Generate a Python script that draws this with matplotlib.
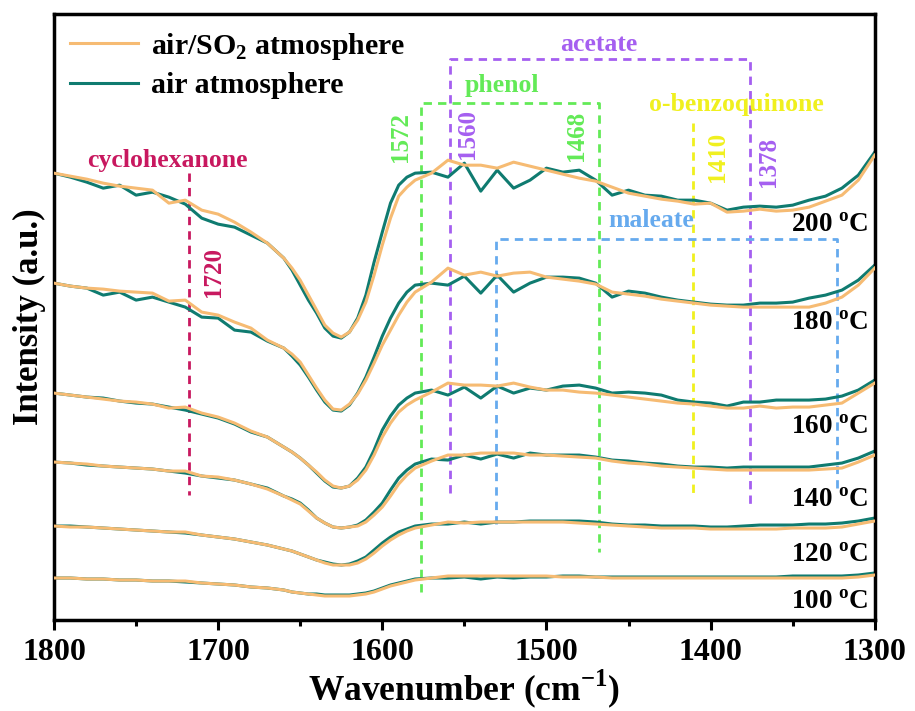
import numpy as np
import matplotlib
matplotlib.use("Agg")
import matplotlib.pyplot as plt
from matplotlib.ticker import MultipleLocator

plt.rcParams['font.family'] = ['Liberation Serif', 'DejaVu Serif']
plt.rcParams['font.weight'] = 'bold'
plt.rcParams['mathtext.fontset'] = 'custom'
plt.rcParams['mathtext.rm'] = 'Liberation Serif:bold'
plt.rcParams['mathtext.bf'] = 'Liberation Serif:bold'

#############
# Data
#############

wavenumber = [1800, 1790, 1780, 1770, 1760, 1750, 1740, 1730, 1720, 1710, 1700, 1690, 1680, 1670,
              1660, 1655, 1650, 1645, 1640, 1635, 1630, 1625, 1620, 1615, 1610, 1605, 1600,
              1595, 1590, 1585, 1580,
              1570, 1560, 1550, 1540, 1530, 1520, 1510, 1500, 1490, 1480, 1470, 1460, 1450,
              1440, 1430, 1420, 1410, 1400, 1390, 1380, 1370, 1360, 1350, 1340, 1330, 1320,
              1310, 1300]

temperatures = ["200", "180", "160", "140", "120", "100"]

# air atmosphere (teal), intensity in a.u.
air_200 = [447, 443, 438, 432, 435, 425, 428, 423, 416, 402, 396, 393, 385, 377,
           362, 350, 335, 320, 307, 292, 284, 282, 288, 302, 325, 358, 388, 417, 435, 443, 447,
           448, 443, 457, 429, 450, 432, 440, 452, 448, 450, 440, 425, 430,
           425, 424, 420, 420, 417, 410, 413, 414, 413, 415, 420, 424, 432, 445, 468]
air_180 = [337, 334, 332, 325, 328, 320, 323, 318, 313, 303, 302, 290, 288, 279,
           272, 264, 255, 243, 230, 218, 210, 209, 215, 227, 243, 263, 284, 302, 317, 328, 335,
           337, 335, 344, 327, 345, 328, 337, 343, 343, 342, 337, 323, 329,
           327, 323, 320, 318, 316, 315, 315, 317, 317, 318, 322, 325, 330, 340, 355]
air_160 = [227, 225, 223, 222, 219, 217, 216, 213, 210, 206, 202, 196, 188, 183,
           173, 168, 162, 155, 147, 139, 133, 132, 134, 142, 153, 170, 190, 204, 215, 222, 227,
           230, 225, 233, 222, 234, 227, 232, 230, 234, 235, 232, 227, 228,
           227, 225, 220, 218, 217, 214, 218, 218, 220, 220, 220, 221, 224, 230, 240]
air_140 = [158, 157, 155, 154, 153, 152, 151, 149, 147, 144, 142, 140, 136, 132,
           124, 121, 117, 110, 102, 97, 93, 92, 93, 95, 100, 108, 117, 130, 142, 150, 156,
           161, 160, 165, 161, 166, 162, 167, 165, 165, 165, 163, 160, 159,
           157, 156, 154, 153, 153, 152, 153, 153, 153, 153, 153, 155, 157, 162, 169]
air_120 = [94, 94, 93, 92, 91, 90, 89, 88, 87, 85, 83, 81, 78, 75,
           71, 69, 66, 63, 60, 58, 56, 55, 56, 59, 63, 70, 77, 83, 88, 91, 94,
           96, 96, 98, 96, 98, 98, 99, 99, 99, 99, 98, 96, 95,
           95, 94, 94, 94, 93, 93, 94, 95, 95, 95, 96, 96, 97, 99, 102]
air_100 = [42, 42, 41, 41, 40, 40, 39, 39, 38, 37, 36, 35, 33, 32,
           30, 28, 27, 26, 26, 25, 25, 25, 25, 26, 27, 29, 32, 35, 37, 39, 41,
           42, 42, 43, 41, 43, 42, 43, 43, 44, 44, 43, 43, 43,
           43, 43, 43, 43, 43, 43, 43, 43, 43, 44, 44, 44, 44, 45, 47]

# air/SO2 atmosphere (orange)
so2_200 = [447, 444, 441, 437, 434, 432, 430, 417, 420, 410, 406, 398, 388, 377,
           362, 352, 340, 325, 310, 295, 287, 283, 288, 300, 318, 345, 375, 402, 424, 433, 440,
           447, 460, 455, 455, 452, 458, 454, 450, 446, 442, 439, 433, 427,
           424, 421, 419, 416, 417, 408, 409, 411, 409, 410, 413, 419, 425, 440, 465]
so2_180 = [337, 334, 332, 331, 329, 328, 327, 319, 320, 308, 305, 298, 292, 280,
           272, 266, 258, 245, 232, 220, 211, 210, 216, 226, 240, 257, 275, 290, 305, 318, 328,
           338, 352, 345, 348, 344, 347, 348, 343, 341, 339, 336, 328, 326,
           324, 321, 319, 317, 315, 314, 313, 313, 313, 313, 313, 317, 323, 335, 352]
so2_160 = [227, 225, 223, 221, 219, 218, 216, 212, 213, 207, 203, 197, 189, 183,
           173, 168, 162, 155, 148, 140, 134, 132, 134, 140, 150, 165, 183, 197, 208, 215, 220,
           228, 237, 235, 235, 234, 237, 233, 230, 230, 228, 227, 225, 223,
           221, 219, 217, 216, 214, 212, 212, 214, 212, 213, 213, 215, 217, 227, 237]
so2_140 = [158, 157, 156, 154, 153, 152, 151, 149, 149, 144, 143, 140, 136, 131,
           124, 120, 116, 109, 102, 97, 93, 92, 93, 94, 98, 105, 113, 124, 136, 145, 152,
           159, 165, 165, 167, 167, 167, 165, 165, 164, 163, 162, 159, 157,
           156, 154, 153, 152, 151, 150, 150, 150, 150, 150, 150, 151, 152, 158, 165]
so2_120 = [94, 93, 93, 92, 91, 90, 89, 88, 88, 85, 83, 81, 78, 75,
           71, 69, 66, 63, 60, 57, 55, 55, 55, 57, 61, 67, 74, 80, 85, 89, 92,
           95, 98, 97, 98, 98, 98, 98, 98, 98, 97, 96, 95, 94,
           93, 92, 92, 92, 91, 91, 91, 91, 91, 92, 92, 92, 93, 96, 99]
so2_100 = [42, 42, 41, 41, 40, 40, 39, 39, 39, 37, 36, 35, 33, 32,
           30, 28, 27, 26, 25, 24, 24, 24, 24, 25, 26, 28, 31, 34, 36, 38, 40,
           42, 44, 44, 44, 44, 44, 44, 44, 43, 43, 43, 42, 42,
           42, 42, 42, 42, 42, 42, 42, 42, 42, 42, 42, 42, 42, 43, 45]

air_curves = [air_200, air_180, air_160, air_140, air_120, air_100]
so2_curves = [so2_200, so2_180, so2_160, so2_140, so2_120, so2_100]

# temperature label heights (a.u.)
temp_label_y = [395, 297, 193, 120, 65, 17]

#############
# End of data
#############

teal = '#0f7b70'
orange = '#f6bb73'
c_cyclo = '#c8185f'
c_green = '#63ea57'
c_purple = '#a55ff0'
c_yellow = '#f0f01e'
c_blue = '#66aaee'

fig = plt.figure(figsize=(9.15, 7.11), dpi=100)
ax = fig.add_axes([0.059, 0.128, 0.897, 0.852])

for i in range(len(temperatures)):
    ax.plot(wavenumber, so2_curves[i], color=orange, lw=2.2,
            label='air/SO$_\\mathbf{2}$ atmosphere' if i == 0 else None, zorder=3)
    ax.plot(wavenumber, air_curves[i], color=teal, lw=2.2,
            label='air atmosphere' if i == 0 else None, zorder=2)
    ax.text(1304, temp_label_y[i], temperatures[i] + ' $^{\\mathbf{o}}$C',
            ha='right', va='center', fontsize=19.5, fontweight='bold')

dash = dict(lw=2, linestyle=(0, (3, 2.2)), zorder=1)
lab = dict(ha='center', va='center', fontsize=18.5)
num = dict(ha='center', va='center', rotation=90, fontsize=18)

# cyclohexanone
ax.plot([1718, 1718], [447, 125], color=c_cyclo, **dash)
ax.text(1731, 460, 'cyclohexanone', color=c_cyclo, **lab)
ax.text(1703, 348, '1720', color=c_cyclo, **num)

# phenol
ax.plot([1576.5, 1576.5, 1468, 1468], [28, 517, 517, 68], color=c_green, **dash)
ax.text(1527, 535, 'phenol', color=c_green, **lab)
ax.text(1589, 483, '1572', color=c_green, **num)
ax.text(1481.5, 484, '1468', color=c_green, **num)

# acetate
ax.plot([1558.5, 1558.5, 1375.7, 1375.7], [127, 561, 561, 115], color=c_purple, **dash)
ax.text(1468, 576, 'acetate', color=c_purple, **lab)
ax.text(1548, 486, '1560', color=c_purple, **num)
ax.text(1364.6, 458, '1378', color=c_purple, **num)

# o-benzoquinone
ax.plot([1410.7, 1410.7], [497, 127], color=c_yellow, **dash)
ax.text(1384, 516, 'o-benzoquinone', color=c_yellow, **lab)
ax.text(1396, 463, '1410', color=c_yellow, **num)

# maleate
ax.plot([1530.8, 1530.8, 1322.7, 1322.7], [96, 381, 381, 132], color=c_blue, **dash)
ax.text(1436, 400, 'maleate', color=c_blue, **lab)

ax.set_xlim(1800, 1300)
ax.set_ylim(0, 606)
ax.set_yticks([])
ax.xaxis.set_major_locator(MultipleLocator(100))
ax.xaxis.set_minor_locator(MultipleLocator(50))
ax.tick_params(axis='x', which='major', direction='out', length=7, width=2.2,
               labelsize=23, pad=6)
ax.tick_params(axis='x', which='minor', direction='out', length=4, width=2.2)
for s in ax.spines.values():
    s.set_linewidth(2.5)

ax.set_xlabel('Wavenumber (cm$^{\\mathbf{-1}}$)', fontsize=25.5, fontweight='bold', labelpad=0)
ax.set_ylabel('Intensity (a.u.)', fontsize=25, fontweight='bold', labelpad=6)

leg = ax.legend(loc='upper left', frameon=False, fontsize=21.5, handlelength=2.25,
                borderaxespad=0.15, labelspacing=0.35, handletextpad=0.45)

fig.savefig('out.png', dpi=100)
